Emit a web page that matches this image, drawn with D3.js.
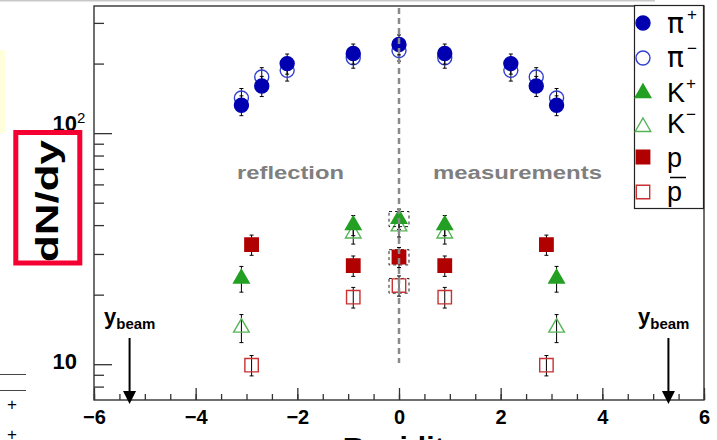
<!DOCTYPE html>
<html>
<head>
<meta charset="utf-8">
<script src="https://cdn.jsdelivr.net/npm/d3@7"></script>
<style>
  body { margin: 0; background: #fff; }
  svg { display: block; font-family: "Liberation Sans", Arial, Helvetica, sans-serif; }
</style>
</head>
<body>
<div id="chart"></div>
<script>
// Data (rapidity, dN/dy, error)
const piRap = [-3.1, -2.7, -2.2, -0.9, 0, 0.9, 2.2, 2.7, 3.1]
const piPlus = [132, 160, 200, 221, 242, 221, 200, 160, 132]
const piPlusErr = [13, 16, 20, 22, 24, 22, 20, 16, 13]
const piMinus = [142, 175, 187, 212, 228, 212, 187, 175, 142]
const piMinusErr = [14, 17, 19, 21, 23, 21, 19, 17, 14]

const kRap = [-3.1, -0.9, 0, 0.9, 3.1]
const kPlus = [23.5, 40, 42.6, 40, 23.5]
const kPlusErr = [3, 4, 4.3, 4, 3]
const kPlusSys = [0, 0, 3.2, 0, 0]
const kMinus = [14.4, 36.8, 39.5, 36.8, 14.4]
const kMinusErr = [2, 3.7, 4, 3.7, 2]

const pRap = [-2.9, -0.9, 0, 0.9, 2.9]
const proton = [32.9, 26.7, 29.1, 26.7, 32.9]
const protonErr = [3.3, 2.7, 2.9, 2.7, 3.3]
const protonSys = [0, 0, 2.2, 0, 0]
const pbar = [9.9, 19.5, 21.9, 19.5, 9.9]
const pbarErr = [1, 2, 2.2, 2, 1]
const pbarSys = [0, 0, 1.6, 0, 0]

const yBeam = [-5.3, 5.3]
const xMajorTicks = [-6, -4, -2, 0, 2, 4, 6]
const xMinorTicks = d3.range(-6, 6.01, 0.5)
const yMajorTicks = [10, 100]
const yMinorTicks = [8, 9, 20, 30, 40, 50, 60, 70, 80, 90, 200, 300]

const width = 717, height = 440
const plot = { left: 94, right: 704, top: 6, bottom: 400 }

const svg = d3.select('#chart').append('svg')
    .attr('width', width)
    .attr('height', height)

const x = d3.scaleLinear().domain([-6, 6]).range([plot.left, plot.right])
const y = d3.scaleLog().domain([7, 355]).range([plot.bottom, plot.top])

// Page decorations around the plot (pieces of neighbouring slide content)
svg.append('line').attr('x1', 0).attr('x2', 655).attr('y1', 0.5).attr('y2', 0.5)
    .attr('stroke', '#c8c8c8').attr('stroke-width', 2)
svg.append('rect').attr('x', 0).attr('y', 50).attr('width', 5).attr('height', 83).attr('fill', '#ffffdc')
svg.append('line').attr('x1', 0).attr('x2', 26).attr('y1', 374.5).attr('y2', 374.5).attr('stroke', '#444')
svg.append('line').attr('x1', 0).attr('x2', 26).attr('y1', 390.5).attr('y2', 390.5).attr('stroke', '#444')
svg.append('text').attr('x', 7).attr('y', 410).attr('font-size', 17).text('+')
svg.append('text').attr('x', 7).attr('y', 440).attr('font-size', 17).text('+')

// Frame
svg.append('rect')
    .attr('x', plot.left).attr('y', plot.top)
    .attr('width', plot.right - plot.left).attr('height', plot.bottom - plot.top)
    .attr('fill', 'none').attr('stroke', '#333').attr('stroke-width', 1.4)

// X axis: ticks point into the plot
const xAxis = d3.axisBottom(x).tickValues(xMajorTicks).tickSizeInner(-12).tickSizeOuter(0)
    .tickPadding(10).tickFormat(d3.format('d'))
const gx = svg.append('g').attr('transform', 'translate(0,' + plot.bottom + ')').call(xAxis)
gx.select('.domain').remove()
gx.selectAll('.tick line').attr('stroke', '#333').attr('stroke-width', 1.3)
gx.selectAll('text').attr('font-size', 20).attr('font-weight', 'bold').attr('fill', '#000')
const gxMinor = svg.append('g').attr('transform', 'translate(0,' + plot.bottom + ')')
    .call(d3.axisBottom(x).tickValues(xMinorTicks).tickSizeInner(-6).tickSizeOuter(0).tickFormat(''))
gxMinor.select('.domain').remove()
gxMinor.selectAll('.tick line').attr('stroke', '#333').attr('stroke-width', 1.3)

// Y axis (log): ticks point into the plot, labels drawn by hand for the exponent
const gy = svg.append('g').attr('transform', 'translate(' + plot.left + ',0)')
    .call(d3.axisLeft(y).tickValues(yMajorTicks).tickSizeInner(-18).tickSizeOuter(0).tickFormat(''))
gy.select('.domain').remove()
gy.selectAll('.tick line').attr('stroke', '#333').attr('stroke-width', 1.3)
const gyMinor = svg.append('g').attr('transform', 'translate(' + plot.left + ',0)')
    .call(d3.axisLeft(y).tickValues(yMinorTicks).tickSizeInner(-10).tickSizeOuter(0).tickFormat(''))
gyMinor.select('.domain').remove()
gyMinor.selectAll('.tick line').attr('stroke', '#333').attr('stroke-width', 1.3)

svg.append('text').attr('x', 77).attr('y', y(10) + 5)
    .attr('text-anchor', 'end').attr('font-size', 22).attr('font-weight', 'bold')
    .text('10')
svg.append('text').attr('x', 77).attr('y', y(100) - 2)
    .attr('text-anchor', 'end').attr('font-size', 22).attr('font-weight', 'bold')
    .text('10')
svg.append('text').attr('x', 77).attr('y', y(100) - 10)
    .attr('font-size', 15)
    .text('2')

// Axis titles
svg.append('text')
    .attr('transform', 'translate(58,201) rotate(-90)')
    .attr('text-anchor', 'middle')
    .attr('font-size', 31).attr('font-weight', 'bold')
    .attr('textLength', 122).attr('lengthAdjust', 'spacingAndGlyphs')
    .text('dN/dy')
svg.append('rect')
    .attr('x', 15.8).attr('y', 132.5).attr('width', 64).attr('height', 130.5)
    .attr('fill', 'none').attr('stroke', '#f50032').attr('stroke-width', 5)
svg.append('text')
    .attr('x', 402).attr('y', 458)
    .attr('text-anchor', 'middle')
    .attr('font-size', 30).attr('font-weight', 'bold')
    .text('Rapidity')

// Region labels
svg.append('text').attr('x', 237).attr('y', 179)
    .attr('font-size', 18).attr('font-weight', 'bold').attr('fill', '#7f7f7f')
    .attr('textLength', 107).attr('lengthAdjust', 'spacingAndGlyphs')
    .text('reflection')
svg.append('text').attr('x', 433).attr('y', 179)
    .attr('font-size', 18).attr('font-weight', 'bold').attr('fill', '#7f7f7f')
    .attr('textLength', 169).attr('lengthAdjust', 'spacingAndGlyphs')
    .text('measurements')

// Beam rapidity arrows
yBeam.forEach((yb, i) => {
    const bx = x(yb)
    svg.append('line').attr('x1', bx).attr('x2', bx).attr('y1', 338).attr('y2', 394)
        .attr('stroke', '#000').attr('stroke-width', 2)
    svg.append('path')
        .attr('d', 'M' + (bx - 6.5) + ',391L' + (bx + 6.5) + ',391L' + bx + ',404Z')
        .attr('fill', '#000')
    const lx = i === 0 ? 104 : 638
    const t = svg.append('text').attr('x', lx).attr('y', 324).attr('font-weight', 'bold')
    t.append('tspan').attr('font-size', 22).text('y')
    t.append('tspan').attr('font-size', 15).attr('dy', 5).text('beam')
})

// Marker shapes
const markers = {
    circle: d3.symbol().type(d3.symbolCircle).size(Math.PI * 49),
    triangle: d3.symbol().type(d3.symbolTriangle).size(105),
    square: d3.symbol().type(d3.symbolSquare).size(180)
}

const series = [
    { rap: piRap, val: piMinus, err: piMinusErr, shape: 'circle', fill: 'none', stroke: '#3040d0' },
    { rap: piRap, val: piPlus, err: piPlusErr, shape: 'circle', fill: '#0000b0', stroke: '#0000b0' },
    { rap: kRap, val: kMinus, err: kMinusErr, shape: 'triangle', fill: 'none', stroke: '#55b455' },
    { rap: kRap, val: kPlus, err: kPlusErr, sys: kPlusSys, shape: 'triangle', fill: '#23a023', stroke: '#23a023' },
    { rap: pRap, val: pbar, err: pbarErr, sys: pbarSys, shape: 'square', fill: 'none', stroke: '#c83232' },
    { rap: pRap, val: proton, err: protonErr, sys: protonSys, shape: 'square', fill: '#b00000', stroke: '#b00000' }
]

const data = svg.append('g')
series.forEach(s => {
    const pts = s.rap.map((r, i) => ({ r: r, v: s.val[i], e: s.err[i], sys: s.sys ? s.sys[i] : 0 }))
    const g = data.append('g')
    // error bars
    g.selectAll('.err').data(pts).enter().append('path')
        .attr('d', d => {
            const cx = x(d.r), y1 = y(d.v + d.e), y2 = y(d.v - d.e)
            return 'M' + cx + ',' + y1 + 'L' + cx + ',' + y2 +
                'M' + (cx - 2) + ',' + y1 + 'L' + (cx + 2) + ',' + y1 +
                'M' + (cx - 2) + ',' + y2 + 'L' + (cx + 2) + ',' + y2
        })
        .attr('stroke', '#000').attr('stroke-width', 1).attr('fill', 'none')
    // systematic boxes
    g.selectAll('.sys').data(pts.filter(d => d.sys > 0)).enter().append('rect')
        .attr('x', d => x(d.r) - 10)
        .attr('y', d => y(d.v + d.sys))
        .attr('width', 20)
        .attr('height', d => y(d.v - d.sys) - y(d.v + d.sys))
        .attr('fill', 'none').attr('stroke', '#222').attr('stroke-width', 1)
        .attr('stroke-dasharray', '3,3')
    // markers
    g.selectAll('.mk').data(pts).enter().append('path')
        .attr('d', markers[s.shape])
        .attr('transform', d => 'translate(' + x(d.r) + ',' + y(d.v) + ')')
        .attr('fill', s.fill)
        .attr('stroke', s.stroke).attr('stroke-width', 1.4)
})

// Dashed line at mid-rapidity
svg.append('line').attr('x1', x(0)).attr('x2', x(0)).attr('y1', 8).attr('y2', 363)
    .attr('stroke', '#8a8a8a').attr('stroke-width', 2.5).attr('stroke-dasharray', '6,4')

// Legend
const legendItems = [
    { shape: 'circle', fill: '#0000b0', stroke: '#0000b0', label: 'π', sup: '+', my: 23, ty: 33 },
    { shape: 'circle', fill: 'none', stroke: '#3040d0', label: 'π', sup: '−', my: 58, ty: 67 },
    { shape: 'triangle', fill: '#23a023', stroke: '#23a023', label: 'K', sup: '+', my: 93, ty: 102 },
    { shape: 'triangle', fill: 'none', stroke: '#55b455', label: 'K', sup: '−', my: 127, ty: 133 },
    { shape: 'square', fill: '#b00000', stroke: '#b00000', label: 'p', sup: '', my: 157, ty: 167 },
    { shape: 'square', fill: 'none', stroke: '#c83232', label: 'p', sup: '', bar: true, my: 192, ty: 201 }
]
const legend = svg.append('g')
legend.append('rect').attr('x', 634.5).attr('y', 5.5).attr('width', 69).attr('height', 203)
    .attr('fill', '#fff').attr('stroke', '#222').attr('stroke-width', 1.2)
legendItems.forEach(it => {
    legend.append('path').attr('d', markers[it.shape])
        .attr('transform', 'translate(643,' + it.my + ')')
        .attr('fill', it.fill).attr('stroke', it.stroke).attr('stroke-width', 1.4)
    const isPi = it.label === 'π'
    legend.append('text').attr('x', 667).attr('y', it.ty)
        .attr('font-family', isPi ? '"DejaVu Sans", sans-serif' : null)
        .attr('font-size', isPi ? 28 : 27)
        .text(it.label)
    if (it.sup) {
        legend.append('text').attr('x', isPi ? 687 : 686).attr('y', it.ty - 13)
            .attr('font-size', 17).text(it.sup)
    }
    if (it.bar) {
        legend.append('line').attr('x1', 670).attr('x2', 686).attr('y1', 177.5).attr('y2', 177.5)
            .attr('stroke', '#000').attr('stroke-width', 1.5)
    }
})
</script>
</body>
</html>
